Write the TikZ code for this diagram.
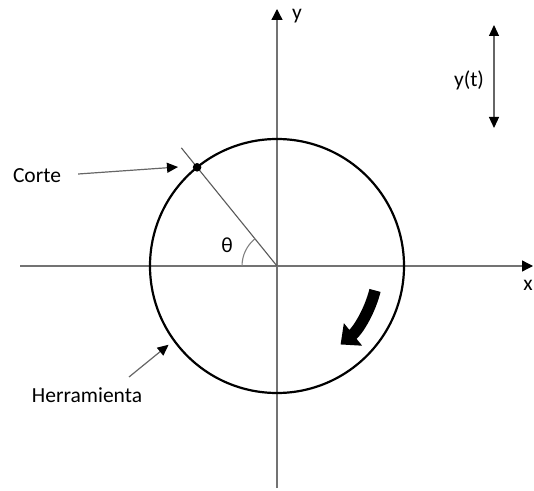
\documentclass[tikz,border=0pt]{standalone}
\usepackage{fontspec}
\setmainfont{Carlito}
\usetikzlibrary{arrows.meta,calc}
\begin{document}
\begin{tikzpicture}[x=1pt,y=1pt,
  lbl/.style={inner sep=0pt, font=\fontsize{21.5}{25}\selectfont},
  axis/.style={draw=black!55, line width=1.3pt, -{Triangle[length=11pt,width=11pt,color=black]}},
  pointer/.style={draw=black!60, line width=1.2pt, -{Triangle[length=11pt,width=10pt,color=black]}}]
\useasboundingbox (0,0) rectangle (534,490);
\coordinate (C) at (277,224);
% axes
\coordinate (xs) at (20,224);
\coordinate (xe) at (533,224);
\coordinate (ys) at (277,2);
\coordinate (ye) at (277,481);
\draw[axis] (xs) -- (xe);
\draw[axis] (ys) -- (ye);
\node[lbl] (ylab) at (297,474) {y};
\node[lbl] (xlab) at (528,205) {x};
% tool circle
\draw[line width=2.2pt] (C) circle[radius=127];
% radius line and cut point
\coordinate (P) at ($(C)+(129:127)$);
\coordinate (Pout) at ($(C)+(129:152)$);
\draw[black!65, line width=1.1pt] (C) -- (Pout);
\fill (P) circle[radius=4.3];
% angle
\draw[black!50, line width=1.1pt] ($(C)+(180:35)$) arc[start angle=180, end angle=129, radius=35];
\node[lbl] (theta) at (227,245) {θ};
% labels with pointers
\node[lbl] (corte) at (37,314) {Corte};
\coordinate (ct) at (178,323);
\draw[pointer] ($(corte.east)+(17,2)$) -- (ct);
\node[lbl] (herr) at (87,95) {Herramienta};
\coordinate (hs) at (129,113);
\coordinate (ht) at ($(C)+(216:134)$);
\draw[pointer] (hs) -- (ht);
% y(t)
\coordinate (ya) at (494,465);
\coordinate (yb) at (494,362);
\draw[draw=black!60, line width=1.2pt, {Triangle[length=11pt,width=10pt,color=black]}-{Triangle[length=11pt,width=10pt,color=black]}] (ya) -- (yb);
\node[lbl] (yt) at (469,410) {y(t)};
% rotation arrow
\draw[line width=11.5pt, -{Triangle[length=16pt,width=28pt]}] ($(C)+(-14:101)$) arc[start angle=-14, end angle=-51, radius=101];
\end{tikzpicture}
\end{document}
